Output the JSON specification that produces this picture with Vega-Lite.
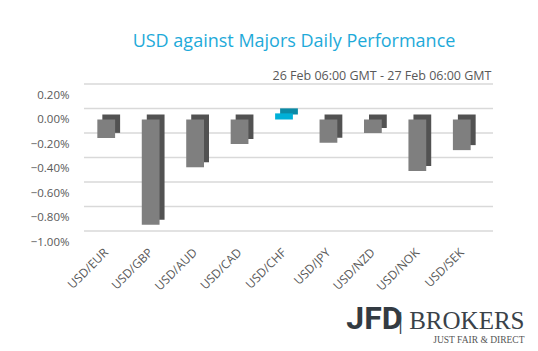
{
  "$schema": "https://vega.github.io/schema/vega-lite/v6.json",
  "width": 400,
  "height": 147,
  "autosize": {"type": "none"},
  "padding": {"left": 84, "top": 95, "right": 54, "bottom": 109},
  "background": "white",
  "title": {"text": "USD against Majors Daily Performance", "font": "Open Sans", "fontSize": 18, "fontWeight": "normal", "color": "#1eaad9", "anchor": "middle", "dx": 10, "offset": 18},
  "config": {"view": {"stroke": null}, "axis": {"labelFont": "Open Sans", "titleFont": "Open Sans"}},
  "datasets": {
    "perf": [
      {"pair": "USD/EUR", "value": -0.15},
      {"pair": "USD/GBP", "value": -0.86},
      {"pair": "USD/AUD", "value": -0.39},
      {"pair": "USD/CAD", "value": -0.20},
      {"pair": "USD/CHF", "value": 0.05},
      {"pair": "USD/JPY", "value": -0.19},
      {"pair": "USD/NZD", "value": -0.11},
      {"pair": "USD/NOK", "value": -0.42},
      {"pair": "USD/SEK", "value": -0.25}
    ],
    "grid": [{"v": 0.2}, {"v": 0}, {"v": -0.2}, {"v": -0.4}, {"v": -0.6}, {"v": -0.8}, {"v": -1}]
  },
  "layer": [
    {
      "data": {"name": "grid"},
      "mark": {"type": "rule", "color": "#d9d9d9", "strokeWidth": 1.5, "yOffset": -11, "xOffset": 9, "x2Offset": 11},
      "encoding": {
        "y": {"field": "v", "type": "quantitative",
          "scale": {"domain": [-1, 0.2], "nice": false, "zero": true},
          "axis": {"values": [0.2, 0, -0.2, -0.4, -0.6, -0.8, -1], "labelExpr": "format(datum.value,'.2f')+'%'", "domain": false, "ticks": false, "grid": false, "labelPadding": 15, "labelColor": "#595959", "labelFontSize": 11.5, "title": null}}
      }
    },
    {
      "data": {"name": "perf"},
      "mark": {"type": "bar", "xOffset": 5, "yOffset": -5, "y2Offset": -5},
      "encoding": {
        "x": {"field": "pair", "type": "nominal", "sort": null,
          "scale": {"paddingInner": 0.6, "paddingOuter": 0.3},
          "axis": {"orient": "top", "title": "26 Feb 06:00 GMT - 27 Feb 06:00 GMT", "titleX": 407, "titleY": -16, "titleAlign": "right", "titleBaseline": "alphabetic", "titleFontSize": 12.5, "titleFontWeight": "normal", "titleColor": "#595959", "labels": false, "ticks": false, "domain": false}},
        "y": {"field": "value", "type": "quantitative", "scale": {"domain": [-1, 0.2], "nice": false, "zero": true}, "axis": null},
        "y2": {"datum": 0},
        "color": {"condition": {"test": "datum.pair === 'USD/CHF'", "value": "#0b8aa6"}, "value": "#525252"}
      }
    },
    {
      "data": {"name": "perf"},
      "mark": {"type": "bar"},
      "encoding": {
        "x": {"field": "pair", "type": "nominal", "sort": null,
          "scale": {"paddingInner": 0.6, "paddingOuter": 0.3},
          "axis": {"orient": "bottom", "labelAngle": -45, "labelAlign": "right", "labelBaseline": "middle", "labelPadding": 8, "labelColor": "#595959", "labelFontSize": 12, "ticks": false, "domain": false,
            "title": "JFD", "titleX": 318, "titleY": 86, "titleAlign": "right", "titleBaseline": "alphabetic", "titleFont": "Roboto", "titleFontSize": 32, "titleFontWeight": "bold", "titleColor": "#333b42"}},
        "y": {"field": "value", "type": "quantitative", "scale": {"domain": [-1, 0.2], "nice": false, "zero": true}, "axis": null},
        "y2": {"datum": 0},
        "color": {"condition": {"test": "datum.pair === 'USD/CHF'", "value": "#00b0d8"}, "value": "#7f7f7f"}
      }
    },
    {
      "data": {"name": "perf"},
      "mark": {"type": "bar", "opacity": 0},
      "encoding": {
        "x": {"field": "pair", "type": "nominal", "sort": null,
          "scale": {"paddingInner": 0.6, "paddingOuter": 0.3},
          "axis": {"orient": "bottom", "labels": false, "ticks": false, "domain": false,
            "title": "| BROKERS", "titleX": 440, "titleY": 86, "titleAlign": "right", "titleBaseline": "alphabetic", "titleFont": "Liberation Serif", "titleFontSize": 25, "titleFontWeight": "normal", "titleColor": "#3a4249"}},
        "y": {"field": "value", "type": "quantitative", "scale": {"domain": [-1, 0.2], "nice": false, "zero": true}, "axis": null},
        "y2": {"datum": 0}
      }
    },
    {
      "data": {"name": "perf"},
      "mark": {"type": "bar", "opacity": 0},
      "encoding": {
        "x": {"field": "pair", "type": "nominal", "sort": null,
          "scale": {"paddingInner": 0.6, "paddingOuter": 0.3},
          "axis": {"orient": "bottom", "labels": false, "ticks": false, "domain": false,
            "title": "JUST FAIR & DIRECT", "titleX": 440, "titleY": 100, "titleAlign": "right", "titleBaseline": "alphabetic", "titleFont": "Liberation Serif", "titleFontSize": 9.5, "titleFontWeight": "normal", "titleColor": "#555555"}},
        "y": {"field": "value", "type": "quantitative", "scale": {"domain": [-1, 0.2], "nice": false, "zero": true}, "axis": null},
        "y2": {"datum": 0}
      }
    }
  ],
  "resolve": {"axis": {"x": "independent", "y": "independent"}}
}
